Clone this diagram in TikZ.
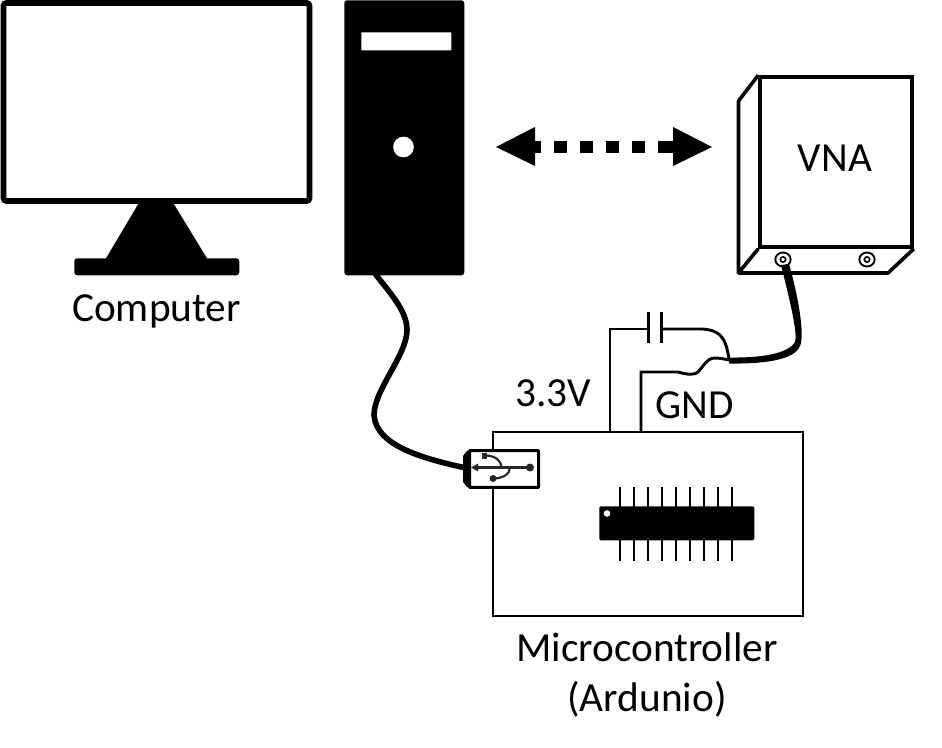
\documentclass[tikz,border=0pt]{standalone}
\usepackage{fontspec}
\usetikzlibrary{shapes.geometric}
\setmainfont{Carlito}
\tikzset{
 lbl/.style={inner sep=0pt,font=\fontsize{31}{37.5}\selectfont,text=black,align=center},
 solidblock/.style={fill=black,draw=none,inner sep=0pt,rounded corners=2.2pt},
 wire/.style={draw=black,line width=2.2pt,line join=miter},
 thinwire/.style={draw=black,line width=2.2pt,line cap=round},
 cable/.style={draw=black,line width=4.2pt,line cap=round},
 vnaline/.style={draw=black,line width=2.7pt,line join=round},
 pin/.style={draw=black,line width=1.9pt},
}
\begin{document}
\begin{tikzpicture}[x=0.75pt,y=-0.75pt]
\useasboundingbox (0,0) rectangle (942,748);
% monitor
\path[fill=black,rounded corners=1pt] (140,201) -- (172,201) -- (208,260) -- (105,260) -- cycle;
\node[solidblock,minimum width=123.75pt,minimum height=12.75pt,anchor=north west] (base) at (74,258) {};
\node[draw=black,line width=4.2pt,rounded corners=2pt,fill=white,inner sep=0pt,minimum width=229.5pt,minimum height=148.5pt,anchor=center] (monitor) at (156.5,102) {};
\node[lbl] (computerlabel) at (156.5,311) {Computer};
% tower
\node[solidblock,minimum width=90pt,minimum height=206.25pt,anchor=north west] (tower) at (344,0) {};
\node[fill=white,inner sep=0pt,minimum width=67.5pt,minimum height=13.5pt,anchor=north west,rounded corners=.5pt] (slot) at (361,32) {};
\node[circle,fill=white,inner sep=0pt,minimum size=15.5pt] (led) at (403.5,147) {};
% double arrow
\path[fill=black] (496,147) -- (535,127) -- (535,166) -- cycle;
\path[fill=black] (712,147) -- (673,127) -- (673,166) -- cycle;
\foreach \a/\b in {535/541,554/567,580/593,606/619,632/645,658/673}
  \path[fill=black] (\a,141) rectangle (\b,153);
% VNA
\node[draw=black,line width=2.7pt,inner sep=0pt,minimum width=114pt,minimum height=127.5pt,anchor=center] (vnafront) at (836,162) {};
\draw[vnaline] (vnafront.north west) -- (738.5,101) -- (738.5,273) -- (888,273) -- (vnafront.south east);
\draw[vnaline] (vnafront.south west) -- (738.5,273);
\node[lbl] (vnalabel) at (835,158) {VNA};
\node[draw=black,line width=1.4pt,ellipse,inner sep=0pt,minimum width=11.5pt,minimum height=10.5pt] (port1) at (783,259.5) {};
\node[draw=black,line width=1.2pt,circle,inner sep=0pt,minimum size=4pt] (port1in) at (783,259.5) {};
\node[draw=black,line width=1.4pt,ellipse,inner sep=0pt,minimum width=11.5pt,minimum height=10.5pt] (port2) at (867,259.5) {};
\node[draw=black,line width=1.2pt,circle,inner sep=0pt,minimum size=4pt] (port2in) at (867,259.5) {};
% MCU board
\node[draw=black,line width=1.5pt,inner sep=0pt,minimum width=232.5pt,minimum height=138pt,anchor=north west] (board) at (491.5,430.5) {};
\node[lbl] (mculabel) at (647,675) {Microcontroller\\(Ardunio)};
% chip
\foreach \x in {620,634,648,662,676,690,704,718,732}
  \draw[pin] (\x,487) -- (\x,561);
\node[solidblock,rounded corners=1pt,minimum width=116.25pt,minimum height=25.5pt,anchor=north west] (chip) at (599,506) {};
\node[circle,fill=white,inner sep=0pt,minimum size=5pt] (pin1) at (607,513.5) {};
% wires
\coordinate (vcc) at (610,431);
\coordinate (gnd) at (641,431);
\coordinate (joint) at (729,360);
\node[lbl] (v33) at (553,393) {3.3V};
\node[lbl] (gndlabel) at (695,405) {GND};
\coordinate (capl) at (648,329);
\coordinate (capr) at (662,329);
\draw[wire] (vcc) -- (610,329) -- (capl);
\draw[wire] (648.5,312) -- (648.5,343);
\draw[wire] (661.5,312) -- (661.5,343);
\draw[thinwire] (capr) -- (702,329) .. controls (718,330) and (726,335) .. (joint);
\draw[wire] (gnd) -- (641,372) -- (678,372) .. controls (688,375) and (695,375) .. (698,372) .. controls (703,367) and (706,359) .. (714,358) .. controls (720,358) and (724,359) .. (joint);
% cables
\path[fill=black] (729,363.5) .. controls (760,364) and (794,361) .. (800,346) .. controls (805,335) and (798,295) .. (789,264)
  -- (781,265) .. controls (789,297) and (798,333) .. (795,342) .. controls (788,354) and (760,358) .. (729,357.5) -- cycle;
\draw[cable] (376,275) .. controls (392,295) and (407,312) .. (407,330) .. controls (407,355) and (374,390) .. (374,415) .. controls (376,445) and (420,458) .. (466,468);
% usb
\node[draw=black,line width=2.2pt,fill=white,inner sep=0pt,minimum width=52pt,minimum height=27.5pt,anchor=center,rounded corners=.5pt] (usb) at (504,469) {};
\path[fill=black] (471,450) -- (467,451) -- (463,456) -- (463,482) -- (467,487) -- (471,488) -- cycle;
\draw[black!85,line width=1.6pt] (473,467.5) -- (530,467.5);
\path[fill=black!85,draw=none] (471,467.5) -- (478,463.5) -- (478,471.5) -- cycle;
\path[fill=black!85] (481.5,453) rectangle (487,458.5);
\path[fill=black!85] (530,467.5) circle[radius=4];
\path[fill=black!85] (493,478.5) circle[radius=3.5];
\draw[black!85,line width=1.6pt] (486,455.5) .. controls (495,456) and (501,460) .. (501.5,467.5);
\draw[black!85,line width=1.6pt] (510,467.5) .. controls (510,474) and (503,478.5) .. (493,478.5);
\end{tikzpicture}
\end{document}
